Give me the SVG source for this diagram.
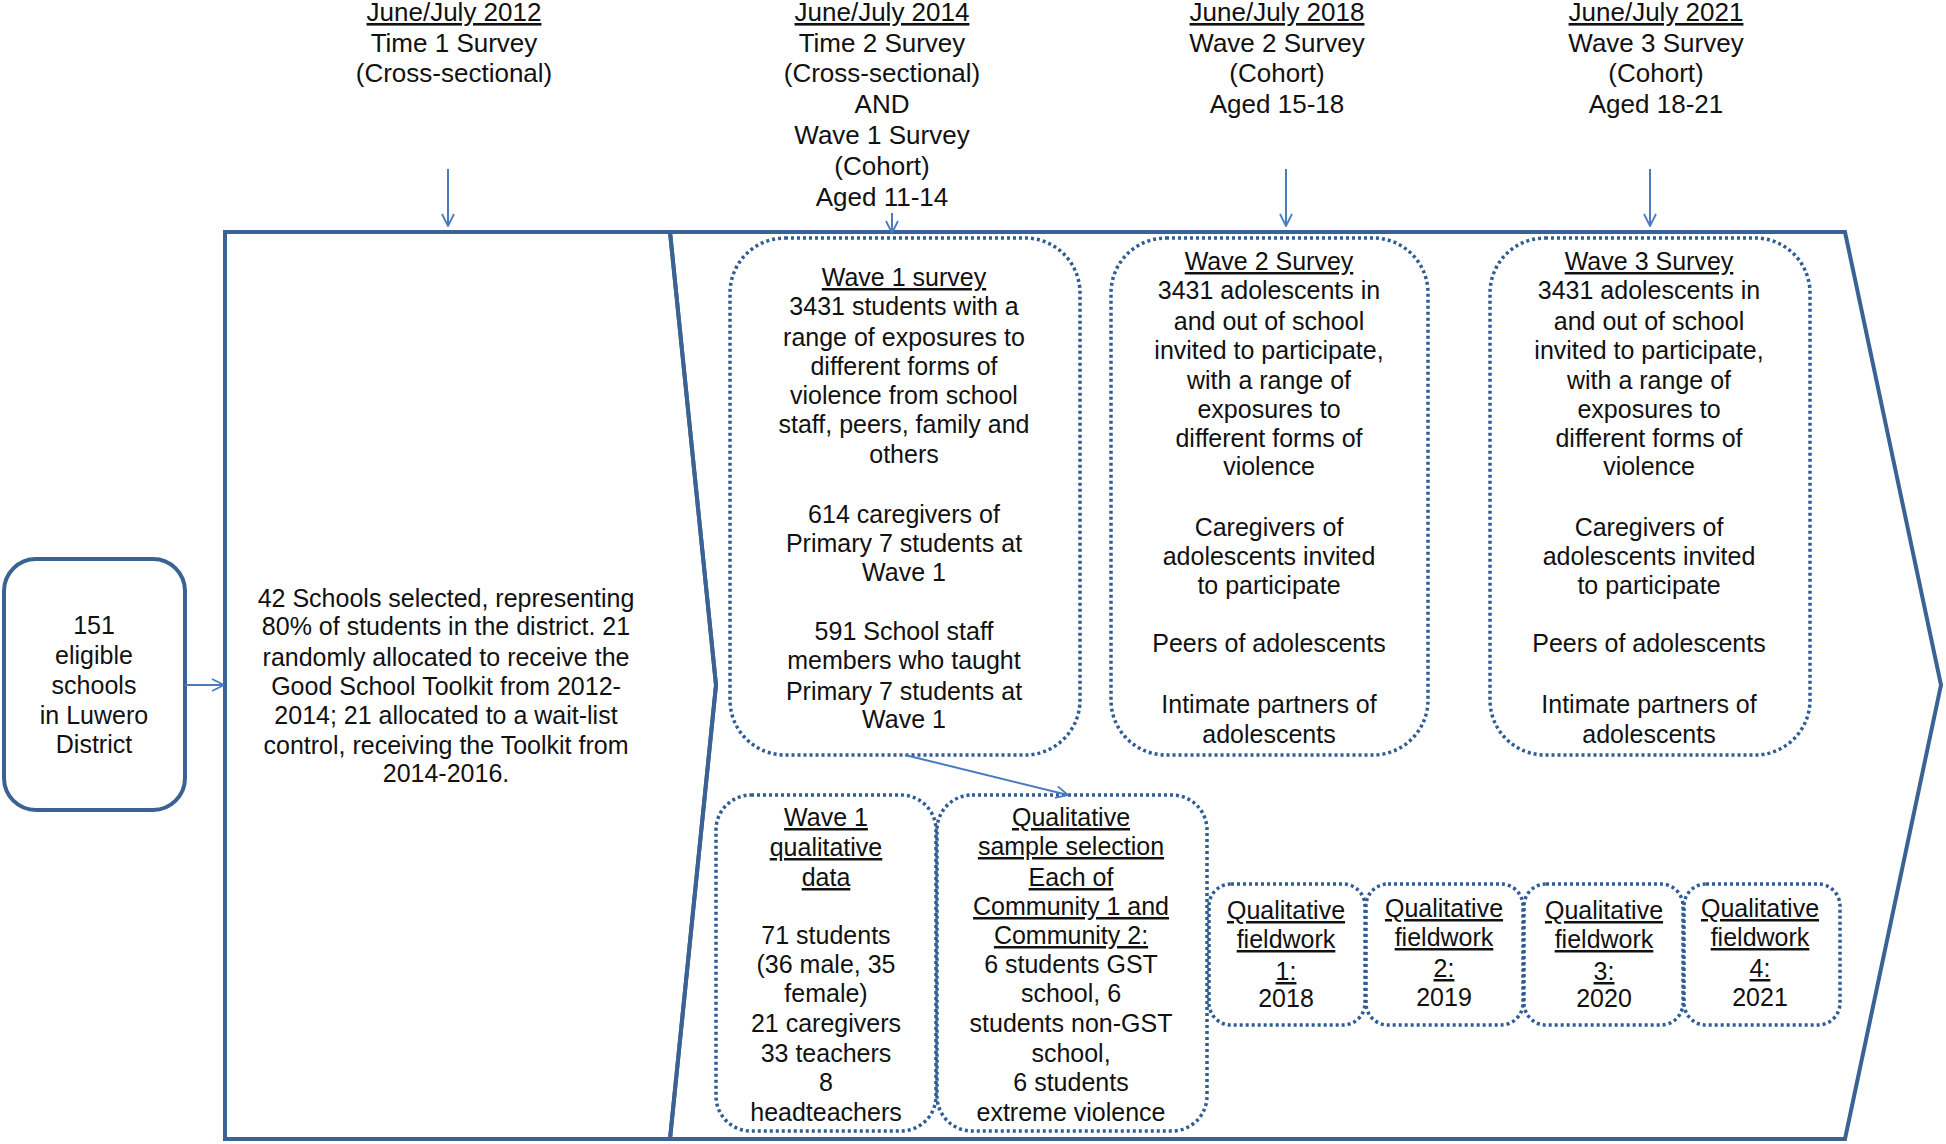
<svg xmlns="http://www.w3.org/2000/svg" width="1946" height="1144" viewBox="0 0 1946 1144">
<style>
.t{font-family:"Liberation Sans",Arial,sans-serif;font-size:25px;text-anchor:middle;fill:#111}
.h{font-size:26px}
.u{text-decoration:underline}
.frame{fill:none;stroke:#3A6394;stroke-width:4;stroke-linejoin:miter}
.solid{fill:#fff;stroke:#3A6394;stroke-width:4}
.dot{fill:none;stroke:#2F5C94;stroke-width:3.5;stroke-dasharray:3 3}
.conn{stroke:#4A7BC0;stroke-width:2;fill:none;marker-end:url(#ah)}
</style>
<defs>
<marker id="ah" viewBox="0 0 14 14" refX="13" refY="7" markerWidth="14" markerHeight="14" markerUnits="userSpaceOnUse" orient="auto">
<path d="M1,1 L13,7 L1,13" fill="none" stroke="#4A7BC0" stroke-width="1.8"/>
</marker>
</defs>
<rect width="1946" height="1144" fill="#fff"/>

<g id="frame1">
<path class="frame" d="M225,232 H670 L716,685 L670,1139 H225 Z"/>
</g>
<g id="frame2">
<path class="frame" d="M670,232 H1845 L1941,685 L1845,1139 H670 L716,685 Z"/>
</g>

<g id="h2012">
<text class="t h u" x="454" y="21">June/July 2012</text>
<text class="t h" x="454" y="52">Time 1 Survey</text>
<text class="t h" x="454" y="82">(Cross-sectional)</text>
</g>
<g id="h2014">
<text class="t h u" x="882" y="21">June/July 2014</text>
<text class="t h" x="882" y="52">Time 2 Survey</text>
<text class="t h" x="882" y="82">(Cross-sectional)</text>
<text class="t h" x="882" y="113">AND</text>
<text class="t h" x="882" y="144">Wave 1 Survey</text>
<text class="t h" x="882" y="175">(Cohort)</text>
<text class="t h" x="882" y="206">Aged 11-14</text>
</g>
<g id="h2018">
<text class="t h u" x="1277" y="21">June/July 2018</text>
<text class="t h" x="1277" y="52">Wave 2 Survey</text>
<text class="t h" x="1277" y="82">(Cohort)</text>
<text class="t h" x="1277" y="113">Aged 15-18</text>
</g>
<g id="h2021">
<text class="t h u" x="1656" y="21">June/July 2021</text>
<text class="t h" x="1656" y="52">Wave 3 Survey</text>
<text class="t h" x="1656" y="82">(Cohort)</text>
<text class="t h" x="1656" y="113">Aged 18-21</text>
</g>

<g id="eligible">
<rect class="solid" x="4" y="559" width="181" height="251" rx="32"/>
<text class="t" x="94" y="634">151</text>
<text class="t" x="94" y="664">eligible</text>
<text class="t" x="94" y="694">schools</text>
<text class="t" x="94" y="724">in Luwero</text>
<text class="t" x="94" y="753">District</text>
</g>

<g id="selected">
<text class="t" x="446" y="607">42 Schools selected, representing</text>
<text class="t" x="446" y="635">80% of students in the district. 21</text>
<text class="t" x="446" y="666">randomly allocated to receive the</text>
<text class="t" x="446" y="695">Good School Toolkit from 2012-</text>
<text class="t" x="446" y="724">2014; 21 allocated to a wait-list</text>
<text class="t" x="446" y="754">control, receiving the Toolkit from</text>
<text class="t" x="446" y="782">2014-2016.</text>
</g>

<g id="wave1">
<rect class="dot" x="730" y="238" width="350" height="517" rx="55"/>
<text class="t u" x="904" y="286">Wave 1 survey</text>
<text class="t" x="904" y="315">3431 students with a</text>
<text class="t" x="904" y="346">range of exposures to</text>
<text class="t" x="904" y="375">different forms of</text>
<text class="t" x="904" y="404">violence from school</text>
<text class="t" x="904" y="433">staff, peers, family and</text>
<text class="t" x="904" y="463">others</text>
<text class="t" x="904" y="523">614 caregivers of</text>
<text class="t" x="904" y="552">Primary 7 students at</text>
<text class="t" x="904" y="581">Wave 1</text>
<text class="t" x="904" y="640">591 School staff</text>
<text class="t" x="904" y="669">members who taught</text>
<text class="t" x="904" y="700">Primary 7 students at</text>
<text class="t" x="904" y="728">Wave 1</text>
</g>

<g id="wave2">
<rect class="dot" x="1111" y="238" width="317" height="517" rx="55"/>
<text class="t u" x="1269" y="270">Wave 2 Survey</text>
<text class="t" x="1269" y="299">3431 adolescents in</text>
<text class="t" x="1269" y="330">and out of school</text>
<text class="t" x="1269" y="359">invited to participate,</text>
<text class="t" x="1269" y="389">with a range of</text>
<text class="t" x="1269" y="418">exposures to</text>
<text class="t" x="1269" y="447">different forms of</text>
<text class="t" x="1269" y="475">violence</text>
<text class="t" x="1269" y="536">Caregivers of</text>
<text class="t" x="1269" y="565">adolescents invited</text>
<text class="t" x="1269" y="594">to participate</text>
<text class="t" x="1269" y="652">Peers of adolescents</text>
<text class="t" x="1269" y="713">Intimate partners of</text>
<text class="t" x="1269" y="743">adolescents</text>
</g>

<g id="wave3">
<rect class="dot" x="1490" y="238" width="320" height="517" rx="55"/>
<text class="t u" x="1649" y="270">Wave 3 Survey</text>
<text class="t" x="1649" y="299">3431 adolescents in</text>
<text class="t" x="1649" y="330">and out of school</text>
<text class="t" x="1649" y="359">invited to participate,</text>
<text class="t" x="1649" y="389">with a range of</text>
<text class="t" x="1649" y="418">exposures to</text>
<text class="t" x="1649" y="447">different forms of</text>
<text class="t" x="1649" y="475">violence</text>
<text class="t" x="1649" y="536">Caregivers of</text>
<text class="t" x="1649" y="565">adolescents invited</text>
<text class="t" x="1649" y="594">to participate</text>
<text class="t" x="1649" y="652">Peers of adolescents</text>
<text class="t" x="1649" y="713">Intimate partners of</text>
<text class="t" x="1649" y="743">adolescents</text>
</g>

<g id="wave1qual">
<rect class="dot" x="716" y="795" width="220" height="336" rx="35"/>
<text class="t u" x="826" y="826">Wave 1</text>
<text class="t u" x="826" y="856">qualitative</text>
<text class="t u" x="826" y="886">data</text>
<text class="t" x="826" y="944">71 students</text>
<text class="t" x="826" y="973">(36 male, 35</text>
<text class="t" x="826" y="1002">female)</text>
<text class="t" x="826" y="1032">21 caregivers</text>
<text class="t" x="826" y="1062">33 teachers</text>
<text class="t" x="826" y="1091">8</text>
<text class="t" x="826" y="1121">headteachers</text>
</g>

<g id="qualsample">
<rect class="dot" x="937" y="795" width="270" height="336" rx="35"/>
<text class="t u" x="1071" y="826">Qualitative</text>
<text class="t u" x="1071" y="855">sample selection</text>
<text class="t u" x="1071" y="886">Each of</text>
<text class="t u" x="1071" y="915">Community 1 and</text>
<text class="t u" x="1071" y="944">Community 2:</text>
<text class="t" x="1071" y="973">6 students GST</text>
<text class="t" x="1071" y="1002">school, 6</text>
<text class="t" x="1071" y="1032">students non-GST</text>
<text class="t" x="1071" y="1062">school,</text>
<text class="t" x="1071" y="1091">6 students</text>
<text class="t" x="1071" y="1121">extreme violence</text>
</g>

<g id="fw1">
<rect class="dot" x="1209" y="884" width="156" height="141" rx="22"/>
<text class="t u" x="1286" y="919">Qualitative</text>
<text class="t u" x="1286" y="948">fieldwork</text>
<text class="t u" x="1286" y="980">1:</text>
<text class="t" x="1286" y="1007">2018</text>
</g>
<g id="fw2">
<rect class="dot" x="1366" y="884" width="157" height="141" rx="22"/>
<text class="t u" x="1444" y="917">Qualitative</text>
<text class="t u" x="1444" y="946">fieldwork</text>
<text class="t u" x="1444" y="977">2:</text>
<text class="t" x="1444" y="1006">2019</text>
</g>
<g id="fw3">
<rect class="dot" x="1524" y="884" width="159" height="141" rx="22"/>
<text class="t u" x="1604" y="919">Qualitative</text>
<text class="t u" x="1604" y="948">fieldwork</text>
<text class="t u" x="1604" y="980">3:</text>
<text class="t" x="1604" y="1007">2020</text>
</g>
<g id="fw4">
<rect class="dot" x="1684" y="884" width="156" height="141" rx="22"/>
<text class="t u" x="1760" y="917">Qualitative</text>
<text class="t u" x="1760" y="946">fieldwork</text>
<text class="t u" x="1760" y="977">4:</text>
<text class="t" x="1760" y="1006">2021</text>
</g>

<g id="connectors">
<line class="conn" x1="448" y1="169" x2="448" y2="226"/>
<line class="conn" x1="892" y1="213" x2="892" y2="233"/>
<line class="conn" x1="1286" y1="169" x2="1286" y2="226"/>
<line class="conn" x1="1650" y1="169" x2="1650" y2="226"/>
<line class="conn" x1="185" y1="685" x2="224" y2="685"/>
<line class="conn" x1="905" y1="755" x2="1068" y2="795"/>
</g>
</svg>
